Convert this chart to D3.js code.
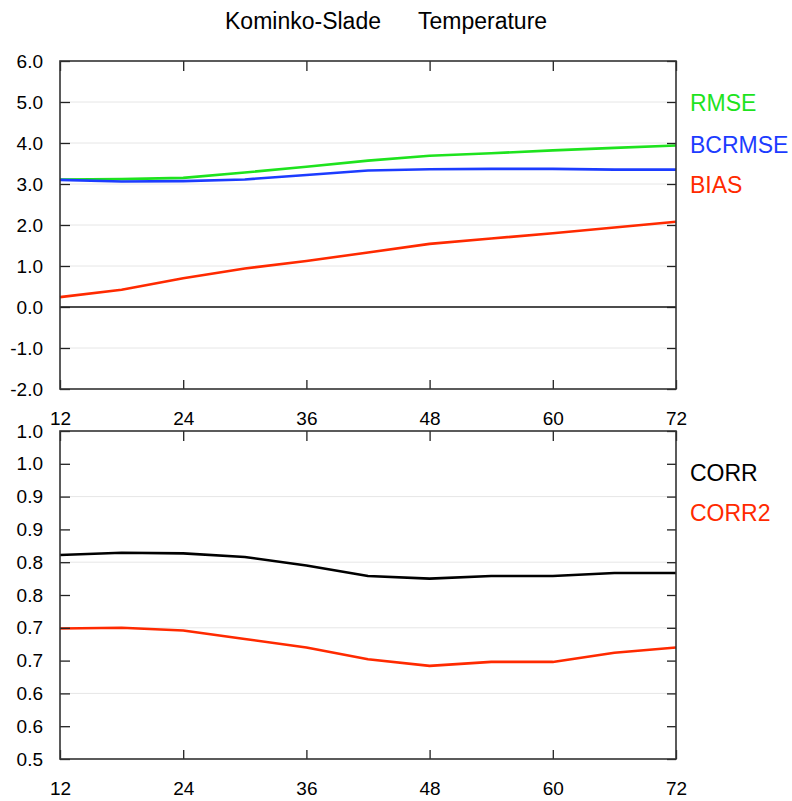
<!DOCTYPE html>
<html>
<head>
<meta charset="utf-8">
<script src="https://cdn.jsdelivr.net/npm/d3@7"></script>
<style>
  html, body { margin: 0; padding: 0; background: #fff; }
  svg { display: block; font-family: "Liberation Sans", Arial, Helvetica, sans-serif; }
  .tick text { font-size: 19px; fill: #000; }
  .tick line { stroke: #222; stroke-width: 1.3; }
</style>
</head>
<body>
<svg id="chart" width="792" height="801"></svg>
<script>
// Forecast hours (x axis)
const hours = [12, 18, 24, 30, 36, 42, 48, 54, 60, 66, 72];
const hourTicks = [12, 24, 36, 48, 60, 72];

// Upper panel: error statistics
const rmse   = [3.11, 3.12, 3.15, 3.28, 3.42, 3.57, 3.69, 3.75, 3.82, 3.88, 3.94];
const bcrmse = [3.10, 3.06, 3.07, 3.11, 3.22, 3.33, 3.36, 3.37, 3.37, 3.35, 3.35];
const bias   = [0.24, 0.42, 0.70, 0.94, 1.12, 1.33, 1.54, 1.67, 1.80, 1.94, 2.08];
const topTicks = [-2, -1, 0, 1, 2, 3, 4, 5, 6];
const topTickLabels = ["-2.0", "-1.0", "0.0", "1.0", "2.0", "3.0", "4.0", "5.0", "6.0"];
const topGrid = [-1, 1, 2, 3, 4, 5];

// Lower panel: correlations
const corr  = [0.811, 0.8145, 0.8135, 0.808, 0.795, 0.779, 0.775, 0.779, 0.779, 0.7835, 0.7835];
const corr2 = [0.699, 0.700, 0.696, 0.683, 0.670, 0.652, 0.642, 0.648, 0.648, 0.662, 0.670];
const botTicks = [0.5, 0.55, 0.6, 0.65, 0.7, 0.75, 0.8, 0.85, 0.9, 0.95, 1.0];
const botTickLabels = ["0.5", "0.6", "0.6", "0.7", "0.7", "0.8", "0.8", "0.9", "0.9", "1.0", "1.0"];
const botGrid = [0.6, 0.7, 0.8, 0.9];

const titleLeft = "Kominko-Slade";
const titleRight = "Temperature";

const topSeries = [
  { name: "RMSE",   values: rmse,   color: "#1ee31e", labelY: 111 },
  { name: "BCRMSE", values: bcrmse, color: "#1c3cff", labelY: 153 },
  { name: "BIAS",   values: bias,   color: "#ff2a00", labelY: 193 }
];
const botSeries = [
  { name: "CORR",  values: corr,  color: "#000000", labelY: 481 },
  { name: "CORR2", values: corr2, color: "#ff2a00", labelY: 521 }
];

const svg = d3.select("#chart");
const left = 60, right = 676;

const x = d3.scaleLinear().domain([12, 72]).range([left, right]);

// Title
svg.append("text").attr("x", 225).attr("y", 29)
  .attr("font-size", 23).text(titleLeft);
svg.append("text").attr("x", 418).attr("y", 29)
  .attr("font-size", 23).text(titleRight);

function panel(y, ticks, tickLabels, grid, series, zeroLine) {
  const [yb, yt] = y.range();
  const g = svg.append("g");

  // light grid lines
  g.selectAll("line.grid").data(grid).join("line")
    .attr("class", "grid")
    .attr("x1", left).attr("x2", right)
    .attr("y1", d => y(d)).attr("y2", d => y(d))
    .attr("stroke", "#e6e6e6").attr("stroke-width", 1);

  if (zeroLine) {
    g.append("line")
      .attr("x1", left).attr("x2", right)
      .attr("y1", y(0)).attr("y2", y(0))
      .attr("stroke", "#111").attr("stroke-width", 1.5);
  }

  // series lines
  const line = d3.line().x((d, i) => x(hours[i])).y(d => y(d));
  g.selectAll("path.series").data(series).join("path")
    .attr("class", "series")
    .attr("d", d => line(d.values))
    .attr("fill", "none")
    .attr("stroke", d => d.color)
    .attr("stroke-width", 2.6)
    .attr("stroke-linejoin", "round");

  // axes with inward ticks
  const labelMap = new Map(ticks.map((t, i) => [t, tickLabels[i]]));
  const yLeft = d3.axisLeft(y).tickValues(ticks)
    .tickFormat(d => labelMap.get(d)).tickSizeInner(-10).tickSizeOuter(0).tickPadding(17);
  const gl = g.append("g").attr("transform", `translate(${left},0)`).call(yLeft);
  gl.select(".domain").remove();

  const yRight = d3.axisRight(y).tickValues(ticks).tickFormat("").tickSizeInner(-9).tickSizeOuter(0);
  const gr = g.append("g").attr("transform", `translate(${right},0)`).call(yRight);
  gr.select(".domain").remove();

  const xTop = d3.axisTop(x).tickValues(hourTicks).tickFormat("").tickSizeInner(-10).tickSizeOuter(0);
  const gt = g.append("g").attr("transform", `translate(0,${yt})`).call(xTop);
  gt.select(".domain").remove();

  const xBot = d3.axisBottom(x).tickValues(hourTicks).tickFormat(d3.format("d"))
    .tickSizeInner(-9).tickSizeOuter(0).tickPadding(22.5);
  const gb = g.append("g").attr("transform", `translate(0,${yb})`).call(xBot);
  gb.select(".domain").remove();

  // frame
  g.append("rect")
    .attr("x", left).attr("y", yt)
    .attr("width", right - left).attr("height", yb - yt)
    .attr("fill", "none").attr("stroke", "#333").attr("stroke-width", 1.6);

  // series labels at the right
  g.selectAll("text.lbl").data(series).join("text")
    .attr("class", "lbl")
    .attr("x", 690).attr("y", d => d.labelY)
    .attr("font-size", 23)
    .attr("fill", d => d.color)
    .text(d => d.name);
}

const yTop = d3.scaleLinear().domain([-2, 6]).range([389, 61]);
const yBot = d3.scaleLinear().domain([0.5, 1.0]).range([759, 431]);

panel(yTop, topTicks, topTickLabels, topGrid, topSeries, true);
panel(yBot, botTicks, botTickLabels, botGrid, botSeries, false);
</script>
</body>
</html>
